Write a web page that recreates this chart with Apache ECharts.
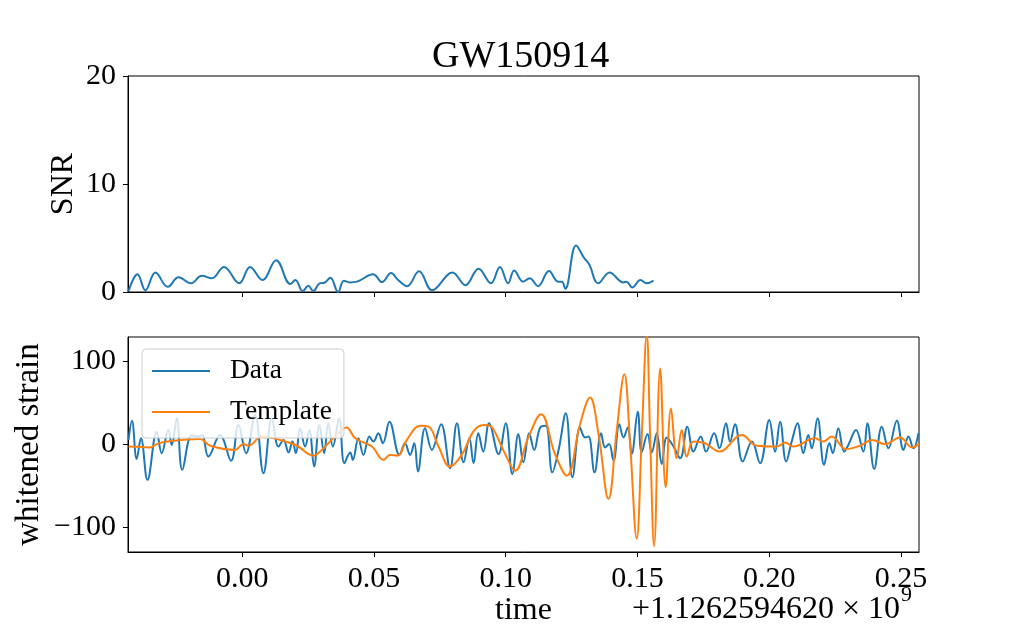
<!DOCTYPE html>
<html>
<head>
<meta charset="utf-8">
<script src="https://cdn.jsdelivr.net/npm/echarts@6/dist/echarts.min.js"></script>
<style>
html,body{margin:0;padding:0;background:#fff;}
#chart{width:1021px;height:631px;}
</style>
</head>
<body>
<div id="chart"></div>
<script>
// ---- data ----
const titleText = 'GW150914';
const xTicks = [0.00, 0.05, 0.10, 0.15, 0.20, 0.25];
const snrTicks = [0, 10, 20];
const strainTicks = [-100, 0, 100];
const xMin = -0.0433, xMax = 0.2568;

const snrT = [-0.0431,-0.0397,-0.0367,-0.0329,-0.0282,-0.0241,-0.0194,-0.0153,-0.0115,-0.0069,-0.0011,0.0030,0.0077,0.0129,0.0183,0.0202,0.0230,0.0251,0.0270,0.0294,0.0312,0.0335,0.0364,0.0386,0.0409,0.0436,0.0497,0.0531,0.0565,0.0592,0.0626,0.0671,0.0721,0.0798,0.0847,0.0897,0.0944,0.0978,0.1009,0.1032,0.1066,0.1091,0.1123,0.1164,0.1199,0.1213,0.1226,0.1267,0.1297,0.1317,0.1351,0.1394,0.1446,0.1459,0.1480,0.1511,0.1534,0.1561];
const snrV = [0.07,1.65,0.16,1.81,0.48,1.36,0.80,1.50,1.27,2.32,0.80,2.32,1.11,2.95,0.73,1.11,0.07,0.58,0.10,0.80,0.86,1.33,0.0,1.05,0.89,0.96,1.65,0.92,1.75,1.11,0.54,1.91,0.16,1.81,0.63,2.16,0.80,2.32,0.80,2.00,0.96,1.27,0.54,1.94,0.96,0.96,0.29,4.30,3.17,2.54,0.80,1.81,0.89,0.96,0.41,1.11,0.80,1.05];

const dataT = [-0.0431,-0.0418,-0.0400,-0.0384,-0.0359,-0.0324,-0.0305,-0.0280,-0.0267,-0.0248,-0.0227,-0.0191,-0.0172,-0.0153,-0.0128,-0.0084,-0.0042,-0.0014,0.0015,0.0049,0.0081,0.0113,0.0138,0.0157,0.0176,0.0191,0.0204,0.0220,0.0239,0.0255,0.0273,0.0293,0.0311,0.0327,0.0344,0.0368,0.0388,0.0410,0.0420,0.0441,0.0460,0.0483,0.0498,0.0517,0.0534,0.0559,0.0597,0.0618,0.0637,0.0653,0.0667,0.0694,0.0720,0.0755,0.0789,0.0815,0.0840,0.0862,0.0878,0.0896,0.0915,0.0937,0.0973,0.1000,0.1025,0.1048,0.1067,0.1089,0.1108,0.1131,0.1152,0.1177,0.1200,0.1228,0.1253,0.1282,0.1301,0.1314,0.1337,0.1362,0.1377,0.1392,0.1409,0.1431,0.1447,0.1463,0.1478,0.1501,0.1516,0.1538,0.1554,0.1573,0.1592,0.1611,0.1635,0.1662,0.1689,0.1712,0.1740,0.1760,0.1791,0.1811,0.1836,0.1851,0.1870,0.1899,0.1934,0.1965,0.2000,0.2022,0.2041,0.2064,0.2085,0.2107,0.2129,0.2148,0.2161,0.2183,0.2208,0.2228,0.2241,0.2262,0.2284,0.2300,0.2329,0.2357,0.2372,0.2398,0.2427,0.2452,0.2484,0.2509,0.2528,0.2547,0.2566];
const dataV = [5,28,-18,7,-43,15,-11,17,-1,31,-31,11,9,11,-15,11,-20,23,-11,35,-35,31,-3,5,-10,3,-11,19,-3,17,-27,23,-11,25,-3,31,-23,-10,-19,7,-13,9,3,13,1,27,-13,1,-13,1,-33,19,-7,24,-29,25,-22,7,-23,13,-9,25,-12,25,-36,12,-22,13,-7,20,22,-34,-8,37,-40,20,8,9,-34,13,-4,0,-20,24,8,20,-12,39,-10,12,-10,13,-24,8,-2,-17,21,-9,9,-9,13,-5,25,3,24,-21,3,-23,29,-9,27,-21,3,25,-11,11,-5,31,-25,1,-11,19,-9,-1,17,-9,25,-30,21,-5,28,-7,9,-5,13];

const tmplT = [-0.0431,-0.0349,-0.0324,-0.0286,-0.0159,-0.0121,-0.0027,0.0005,0.0024,0.0075,0.0144,0.0208,0.0270,0.0302,0.0346,0.0396,0.0429,0.0492,0.0536,0.0561,0.0589,0.0625,0.0675,0.0707,0.0745,0.0789,0.0833,0.0877,0.0915,0.0941,0.0960,0.0998,0.1036,0.1086,0.1134,0.1187,0.1232,0.1282,0.1320,0.1352,0.1390,0.1421,0.1450,0.1472,0.1497,0.1516,0.1535,0.1548,0.1563,0.1586,0.1607,0.1627,0.1649,0.1668,0.1687,0.1712,0.1756,0.1811,0.1896,0.1953,0.2028,0.2060,0.2091,0.2174,0.2204,0.2237,0.2291,0.2344,0.2390,0.2439,0.2496,0.2542,0.2568];
const tmplV = [-3,-4,0,3,6,-2,-7,0,-2,9,5,-2,-14,-7,7,20,7,-3,-19,-13,-14,5,22,21,-3,-27,-13,15,23,22,14,-12,-32,8,36,-12,-38,24,56,12,-66,16,84,0,-114,8,132,8,-123,91,-52,43,-17,17,-15,3,1,-9,11,-2,-3,2,-3,7,3,9,-6,-2,5,0,8,-4,0];

const seriesNames = ['Data', 'Template'];
const colors = ['#1f77b4', '#ff7f0e'];
const offsetText = '+1.1262594620 \u00d7 10';
const offsetExp = '9';

function zip(a, b) { return a.map((v, i) => [v, b[i]]); }
const FONT = 'Liberation Serif';
const fmtMinus = v => String(v).replace('-', '\u2212');

const chart = echarts.init(document.getElementById('chart'), null, {renderer: 'canvas'});
const axisLineStyle = {show: true, onZero: false, lineStyle: {color: '#000', width: 1}};
const tickStyle = vals => ({show: true, customValues: vals, length: 5, inside: false, lineStyle: {color: '#000', width: 1}});
const nameStyle = {fontFamily: FONT, fontSize: 32, color: '#000'};
const labelBase = {margin: 12, fontFamily: FONT, fontSize: 30, color: '#000'};
const LW = 2;

chart.setOption({
  animation: false,
  backgroundColor: '#fff',
  title: {
    text: titleText, left: 427, top: 33,
    textStyle: {fontFamily: FONT, fontSize: 38, fontWeight: 'normal', color: '#000'}
  },
  grid: [
    {left: 128, right: 102, top: 76, height: 216, show: true, borderColor: '#000', borderWidth: 1, backgroundColor: 'transparent'},
    {left: 128, right: 102, top: 337, height: 215, show: true, borderColor: '#000', borderWidth: 1, backgroundColor: 'transparent'}
  ],
  legend: {
    data: seriesNames,
    icon: 'rect',
    orient: 'vertical',
    left: 142, top: 349,
    padding: [8, 12, 12, 10],
    itemWidth: 58, itemHeight: 2.2, itemGap: 13,
    backgroundColor: 'rgba(255,255,255,0.8)',
    borderColor: '#cccccc', borderWidth: 1, borderRadius: 4,
    textStyle: {fontFamily: FONT, fontSize: 27.5, color: '#000', lineHeight: 26, padding: [0, 0, 0, 15]}
  },
  xAxis: [
    {type: 'value', gridIndex: 0, min: xMin, max: xMax,
      axisLine: axisLineStyle, splitLine: {show: false},
      axisTick: tickStyle(xTicks),
      axisLabel: {show: false}},
    {type: 'value', gridIndex: 1, min: xMin, max: xMax,
      axisLine: axisLineStyle, splitLine: {show: false},
      name: 'time', nameLocation: 'middle', nameGap: 27, nameTextStyle: nameStyle,
      axisTick: tickStyle(xTicks),
      axisLabel: Object.assign({show: true, customValues: xTicks, formatter: v => fmtMinus(v.toFixed(2))}, labelBase)}
  ],
  yAxis: [
    {type: 'value', gridIndex: 0, min: 0, max: 20,
      axisLine: axisLineStyle, splitLine: {show: false},
      name: 'SNR', nameLocation: 'middle', nameGap: 48, nameMoveOverlap: false, nameTextStyle: nameStyle,
      axisTick: tickStyle(snrTicks),
      axisLabel: Object.assign({show: true, customValues: snrTicks}, labelBase)},
    {type: 'value', gridIndex: 1, min: -130, max: 129,
      axisLine: axisLineStyle, splitLine: {show: false},
      name: 'whitened strain', nameLocation: 'middle', nameGap: 82, nameMoveOverlap: false,
      nameTextStyle: Object.assign({}, nameStyle, {fontSize: 33}),
      axisTick: tickStyle(strainTicks),
      axisLabel: Object.assign({show: true, customValues: strainTicks, formatter: v => fmtMinus(v)}, labelBase)}
  ],
  graphic: [
    {type: 'text', right: 121, top: 594,
      style: {text: offsetText, fontFamily: FONT, fontSize: 32, fill: '#000'}},
    {type: 'text', left: 901, top: 584,
      style: {text: offsetExp, fontFamily: FONT, fontSize: 22, fill: '#000'}}
  ],
  series: [
    {type: 'line', name: 'SNR', xAxisIndex: 0, yAxisIndex: 0, data: zip(snrT, snrV),
      symbol: 'none', smooth: 0.4, lineStyle: {color: colors[0], width: LW}, itemStyle: {color: colors[0]}, clip: true},
    {type: 'line', name: seriesNames[0], xAxisIndex: 1, yAxisIndex: 1, data: zip(dataT, dataV),
      symbol: 'none', smooth: 0.4, lineStyle: {color: colors[0], width: LW}, itemStyle: {color: colors[0]}, clip: true},
    {type: 'line', name: seriesNames[1], xAxisIndex: 1, yAxisIndex: 1, data: zip(tmplT, tmplV),
      symbol: 'none', smooth: 0.4, lineStyle: {color: colors[1], width: LW}, itemStyle: {color: colors[1]}, clip: true}
  ]
});
</script>
</body>
</html>
